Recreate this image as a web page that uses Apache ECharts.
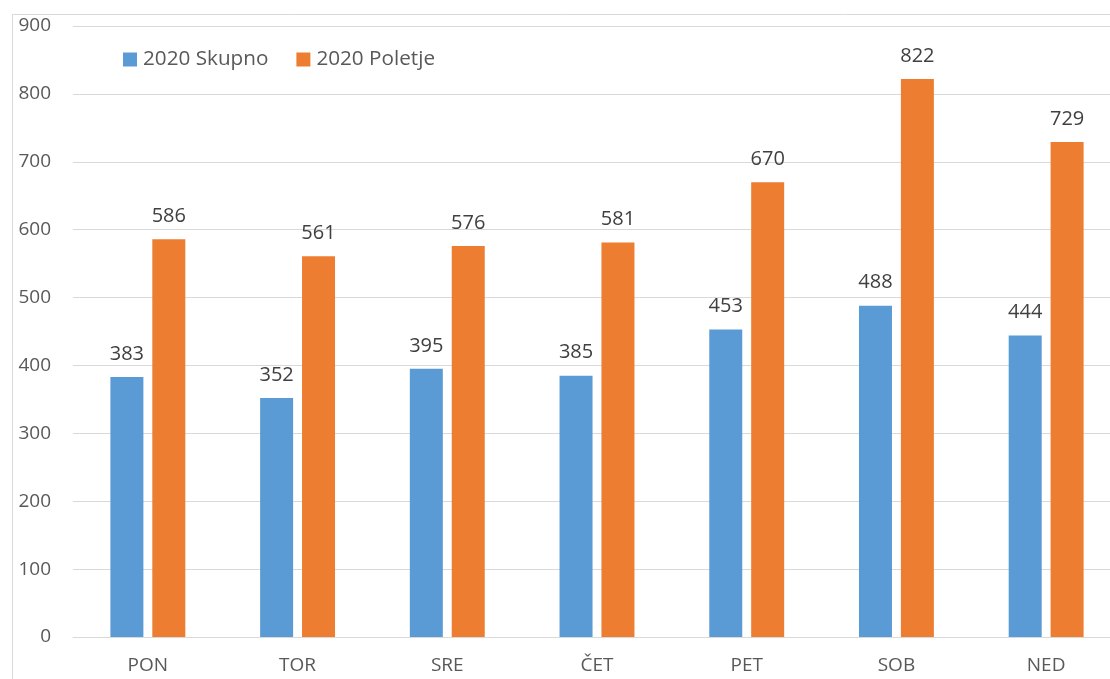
<!DOCTYPE html>
<html>
<head>
<meta charset="utf-8">
<script src="https://cdn.jsdelivr.net/npm/echarts@6/dist/echarts.min.js"></script>
<style>html,body{margin:0;padding:0;background:#fff;overflow:hidden;width:1110px;height:679px}#c{width:1121px;height:679px}</style>
</head>
<body>
<div id="c"></div>
<script>
const categories = ['PON', 'TOR', 'SRE', 'ČET', 'PET', 'SOB', 'NED'];
const skupno = [383, 352, 395, 385, 453, 488, 444];
const poletje = [586, 561, 576, 581, 670, 822, 729];
const seriesNames = ['2020 Skupno', '2020 Poletje'];
const yTicks = { min: 0, max: 900, interval: 100 };

const FONT = '"Open Sans", sans-serif';
const chart = echarts.init(document.getElementById('c'), null, { renderer: 'canvas' });
const labelStyle = { show: true, position: 'top', distance: 13, color: '#404040', fontSize: 20, fontFamily: FONT };
chart.setOption({
  animation: false,
  backgroundColor: '#fff',
  graphic: [{
    type: 'rect', left: 10, top: 12, shape: { width: 1200, height: 800 },
    style: { fill: 'none', stroke: '#d9d9d9', lineWidth: 1 }, silent: true
  }],
  legend: {
    left: 118, top: 44, itemWidth: 14, itemHeight: 14, itemGap: 28,
    icon: 'rect',
    textStyle: { color: '#595959', fontSize: 20.7, fontFamily: FONT, padding: [0, 0, 0, 1] },
    data: seriesNames
  },
  grid: { left: 73, top: 26, right: 0, height: 611, containLabel: false },
  xAxis: {
    type: 'category', data: categories,
    axisLine: { lineStyle: { color: '#d9d9d9', width: 1 } },
    axisTick: { show: false },
    axisLabel: { color: '#595959', fontSize: 19, fontFamily: FONT, margin: 19 }
  },
  yAxis: {
    type: 'value', min: yTicks.min, max: yTicks.max, interval: yTicks.interval,
    axisLine: { show: false }, axisTick: { show: false },
    splitLine: { lineStyle: { color: '#d9d9d9', width: 1 } },
    axisLabel: { color: '#595959', fontSize: 19, fontFamily: FONT, margin: 22 }
  },
  series: [
    { name: seriesNames[0], type: 'bar', data: skupno, barWidth: 33, barGap: '27%',
      itemStyle: { color: '#5B9BD5' }, label: labelStyle },
    { name: seriesNames[1], type: 'bar', data: poletje, barWidth: 33, barGap: '27%',
      itemStyle: { color: '#ED7D31' }, label: labelStyle }
  ]
});
</script>
</body>
</html>
